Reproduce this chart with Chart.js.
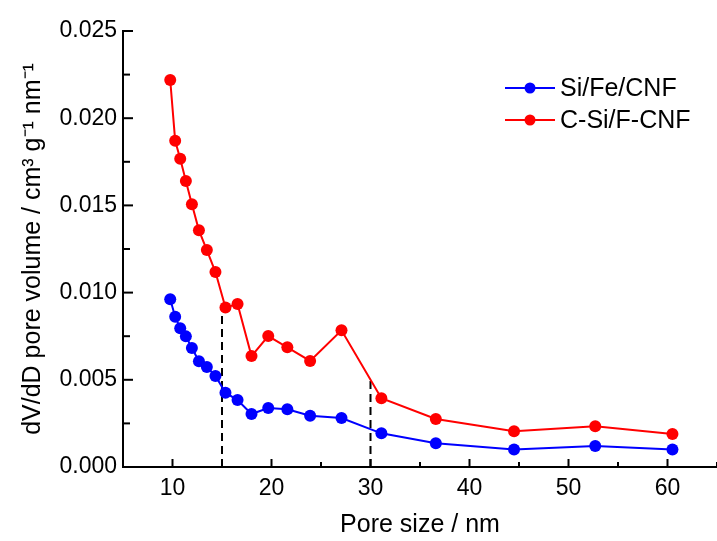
<!DOCTYPE html>
<html>
<head>
<meta charset="utf-8">
<script src="https://cdn.jsdelivr.net/npm/chart.js@4"></script>
<style>
  html, body { margin: 0; padding: 0; background: #fff; }
  #wrap { width: 717px; height: 541px; }
</style>
</head>
<body>
<div id="wrap"><canvas id="poreChart" width="717" height="541"></canvas></div>
<script>
// Dados
const poreSize = [9.77, 10.27, 10.78, 11.35, 11.96, 12.67, 13.47, 14.34, 15.35, 16.57,
  17.98, 19.67, 21.6, 23.9, 27.07, 31.1, 36.6, 44.5, 52.7, 60.5];
const siFeCnf = [0.00962, 0.00862, 0.00795, 0.00749, 0.00682, 0.00606, 0.00573, 0.00522, 0.00426, 0.00384,
  0.00304, 0.00338, 0.00331, 0.00294, 0.00281, 0.00193, 0.00136, 0.00101, 0.0012, 0.00101];
const cSiFCnf = [0.02219, 0.01871, 0.01768, 0.0164, 0.01506, 0.01357, 0.01244, 0.01118, 0.00915, 0.00935,
  0.00636, 0.00751, 0.00686, 0.00608, 0.00784, 0.00394, 0.00275, 0.00205, 0.00233, 0.00189];
const seriesNames = ['Si/Fe/CNF', 'C-Si/F-CNF'];
const xTicks = [10, 20, 30, 40, 50, 60];
const dashX = [15, 30];
const dashTop = [0.0091, 0.005];

const FONT = 'Arial, "Liberation Sans", sans-serif';

const toPoints = (ys) => poreSize.map((x, i) => ({ x: x, y: ys[i] }));

const dashSets = dashX.map((x, i) => ({
  label: 'dash' + i,
  data: [{ x: x, y: 0 }, { x: x, y: dashTop[i] }],
  borderColor: '#000',
  borderWidth: 2,
  borderDash: [8, 5],
  pointRadius: 0,
  showLine: true,
  order: 10
}));

// Ticks para dentro + legenda com linha e ponto
const extras = {
  id: 'extras',
  afterDatasetsDraw(chart) {
    const c = chart.ctx;
    const xs = chart.scales.x, ys = chart.scales.y;
    const area = chart.chartArea;
    c.save();
    c.strokeStyle = '#000';
    c.lineWidth = 2;
    for (let v = 5; v <= 65; v += 5) {
      const px = xs.getPixelForValue(v);
      const len = v % 10 === 0 ? 8 : 5;
      c.beginPath(); c.moveTo(px, area.bottom); c.lineTo(px, area.bottom - len); c.stroke();
    }
    for (let k = 0; k <= 10; k++) {
      const py = ys.getPixelForValue(k * 0.0025);
      const len = k % 2 === 0 ? 10 : 7;
      c.beginPath(); c.moveTo(area.left, py); c.lineTo(area.left + len, py); c.stroke();
    }
    // legenda
    const rows = [88, 120];
    chart.data.datasets.slice(0, 2).forEach((ds, i) => {
      const y = rows[i];
      c.strokeStyle = ds.borderColor;
      c.fillStyle = ds.borderColor;
      c.lineWidth = 2;
      c.beginPath(); c.moveTo(505, y); c.lineTo(555, y); c.stroke();
      c.beginPath(); c.arc(530, y, 5.5, 0, Math.PI * 2); c.fill();
      c.fillStyle = '#000';
      c.font = '25px ' + FONT;
      c.textBaseline = 'middle';
      c.textAlign = 'left';
      c.fillText(ds.label, 560, y + 1);
    });
    c.restore();
  }
};

const ctx = document.getElementById('poreChart').getContext('2d');
const poreChart = new Chart(ctx, {
  type: 'scatter',
  data: {
    datasets: [
      {
        label: seriesNames[0],
        data: toPoints(siFeCnf),
        borderColor: '#0000ff',
        backgroundColor: '#0000ff',
        borderWidth: 2,
        pointRadius: 6,
        pointBorderWidth: 0,
        showLine: true,
        order: 1
      },
      {
        label: seriesNames[1],
        data: toPoints(cSiFCnf),
        borderColor: '#ff0000',
        backgroundColor: '#ff0000',
        borderWidth: 2,
        pointRadius: 6,
        pointBorderWidth: 0,
        showLine: true,
        order: 0
      },
      ...dashSets
    ]
  },
  options: {
    responsive: false,
    animation: false,
    layout: { autoPadding: false, padding: { top: 31, right: 0, left: 0, bottom: 0 } },
    plugins: {
      legend: { display: false },
      tooltip: { enabled: false }
    },
    scales: {
      x: {
        type: 'linear',
        min: 5,
        max: 65,
        afterBuildTicks: (s) => { s.ticks = xTicks.map((v) => ({ value: v })); },
        afterFit: (s) => { s.height = 74; s.paddingRight = 0; },
        grid: { display: false, drawTicks: false },
        border: { display: true, color: '#000', width: 2 },
        ticks: {
          padding: 8,
          color: '#000',
          maxRotation: 0,
          font: { family: FONT, size: 23 },
          callback: (v) => String(v)
        },
        title: {
          display: true,
          text: 'Pore size / nm',
          color: '#000',
          font: { family: FONT, size: 25 },
          padding: { top: 0, bottom: 1 }
        }
      },
      y: {
        type: 'linear',
        min: 0,
        max: 0.025,
        afterFit: (s) => { s.width = 123; },
        grid: { display: false, drawTicks: false },
        border: { display: true, color: '#000', width: 2 },
        ticks: {
          stepSize: 0.005,
          padding: 6,
          color: '#000',
          font: { family: FONT, size: 23 },
          callback: (v) => v.toFixed(3)
        },
        title: {
          display: true,
          text: 'dV/dD pore volume / cm³ g⁻¹ nm⁻¹',
          color: '#000',
          font: { family: FONT, size: 25 },
          padding: { top: 18, bottom: 0 }
        }
      }
    }
  },
  plugins: [extras]
});
</script>
</body>
</html>
